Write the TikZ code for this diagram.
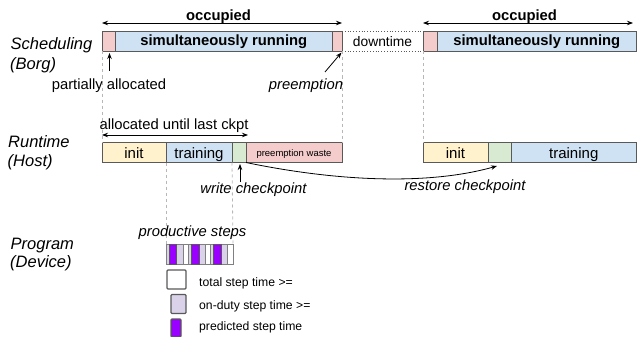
\documentclass[tikz,border=0pt]{standalone}
\usepackage{fontspec}
\setmainfont{Liberation Sans}
\usetikzlibrary{arrows.meta}
\definecolor{cpink}{HTML}{F4CCCC}
\definecolor{cblue}{HTML}{CFE2F3}
\definecolor{cyellow}{HTML}{FFF2CC}
\definecolor{cgreen}{HTML}{D9EAD3}
\definecolor{cpurple}{HTML}{9900FF}
\definecolor{clav}{HTML}{D9D2E9}
\definecolor{cedge}{HTML}{595959}
\definecolor{cdash}{HTML}{B7B7B7}
\begin{document}
\begin{tikzpicture}[x=1pt,y=-1pt,
 seg/.style={draw=cedge,line width=0.8pt,inner sep=0pt,outer sep=0pt,minimum height=20pt,anchor=west},
 topseg/.style={seg,text height=9pt,text depth=0pt,font=\bfseries\fontsize{14.8}{17}\selectfont},
 runseg/.style={seg,text height=12pt,text depth=0pt,font=\fontsize{15}{17}\selectfont},
 btxt/.style={font=\bfseries\fontsize{14.8}{17}\selectfont,inner sep=0pt,anchor=base},
 txt/.style={font=\fontsize{14.8}{17}\selectfont,inner sep=0pt,anchor=base},
 itxt/.style={font=\itshape\fontsize{14.8}{17}\selectfont,inner sep=0pt,anchor=base},
 side/.style={font=\itshape\fontsize{16.5}{19}\selectfont,inner sep=0pt,anchor=base west},
 legtxt/.style={font=\fontsize{12.2}{14}\selectfont,inner sep=0pt,anchor=base west},
 guide/.style={draw=cdash,dash pattern=on 3pt off 3pt,line width=0.8pt},
 arr/.style={-{Stealth[length=6pt,width=4.5pt]},line width=0.8pt},
 darr/.style={{Stealth[length=6pt,width=4.5pt]}-{Stealth[length=6pt,width=4.5pt]},line width=0.8pt},
 stepbox/.style={draw=gray,line width=0.6pt,inner sep=0pt,outer sep=0pt,anchor=north west,minimum height=20pt},
 legbox/.style={draw=cedge,line width=1.1pt,inner sep=0pt,outer sep=0pt,anchor=north west,rounded corners=1pt},
]
\useasboundingbox (0,0) rectangle (637,337);

% top bar
\node[topseg,fill=cpink,minimum width=13.5pt] (s1p) at (102,41.5) {};
\node[topseg,fill=cblue,minimum width=216.5pt] (s1b) at (115.5,41.5) {simultaneously running};
\node[topseg,fill=cpink,minimum width=10pt] (s1q) at (332,41.5) {};
\node[inner sep=0pt,outer sep=0pt,minimum height=20pt,minimum width=81pt,anchor=west,
      text height=10pt,text depth=0pt,font=\fontsize{13.8}{16}\selectfont] (down) at (342,41.5) {downtime};
\node[topseg,fill=cpink,minimum width=14pt] (s2p) at (423,41.5) {};
\node[topseg,fill=cblue,minimum width=199.5pt] (s2b) at (437,41.5) {simultaneously running};
\draw[cedge,dotted,line width=0.8pt] (down.north west) -- (down.north east)
  (down.south west) -- (down.south east);

% runtime bar
\node[runseg,fill=cyellow,minimum width=64pt] (r1i) at (102,152.5) {init};
\node[runseg,fill=cblue,minimum width=66pt] (r1t) at (166,152.5) {training};
\node[runseg,fill=cgreen,minimum width=14pt] (r1g) at (232,152.5) {};
\node[seg,fill=cpink,minimum width=96pt,text height=7pt,text depth=0pt,font=\fontsize{9.5}{11}\selectfont] (r1w) at (246,152.5) {preemption waste};
\node[runseg,fill=cyellow,minimum width=65pt] (r2i) at (423,152.5) {init};
\node[runseg,fill=cgreen,minimum width=23pt] (r2g) at (488,152.5) {};
\node[runseg,fill=cblue,minimum width=125.5pt] (r2t) at (511,152.5) {training};

% steps strip
\node[stepbox,fill=white,minimum width=67pt] (strip) at (166,244) {};
\node[stepbox,fill=white,minimum width=22.33pt] (w1) at (166,244) {};
\node[stepbox,fill=white,minimum width=22.33pt] (w2) at (188.33,244) {};
\node[stepbox,fill=white,minimum width=22.33pt] (w3) at (210.67,244) {};
\node[stepbox,fill=clav,minimum width=17pt] (l1) at (166,244) {};
\node[stepbox,fill=clav,minimum width=17pt] (l2) at (188.33,244) {};
\node[stepbox,fill=clav,minimum width=17pt] (l3) at (210.67,244) {};
\node[stepbox,draw=cedge,fill=cpurple,minimum width=7.5pt] (p1) at (169,244) {};
\node[stepbox,draw=cedge,fill=cpurple,minimum width=7.5pt] (p2) at (191.33,244) {};
\node[stepbox,draw=cedge,fill=cpurple,minimum width=7.5pt] (p3) at (213.67,244) {};

% guides
\draw[guide] (s1p.south west) -- (r1i.north west);
\draw[guide] (s1q.south east) -- (r1w.north east);
\draw[guide] (s2p.south west) -- (r2i.north west);
\draw[guide] (r1t.south west) -- (strip.north west);
\draw[guide] (r1g.south west) -- (strip.north east);

% legend
\node[legbox,fill=white,minimum width=19pt,minimum height=19pt] (lw) at (167,270) {};
\node[legbox,fill=clav,minimum width=15pt,minimum height=19pt] (ll) at (171,294.5) {};
\node[legbox,fill=cpurple,minimum width=10pt,minimum height=18pt] (lp) at (171,319) {};
\node[legtxt] (tw) at (199,286.5) {total step time >=};
\node[legtxt] (tl) at (199,309) {on-duty step time >=};
\node[legtxt] (tp) at (199,330) {predicted step time};

% side labels
\node[side] (sched) at (10.5,50) {Scheduling};
\node[side] (borg) at (10,70) {(Borg)};
\node[side] (rt) at (8,147) {Runtime};
\node[side] (host) at (7.5,166) {(Host)};
\node[side] (prog) at (10.5,249) {Program};
\node[side] (dev) at (10,267) {(Device)};

% texts
\node[btxt] (occ1) at (218.5,20.5) {occupied};
\node[btxt] (occ2) at (524.5,20.5) {occupied};
\node[txt] (pa) at (109,89) {partially allocated};
\node[itxt] (pre) at (306,89) {preemption};
\node[txt] (alc) at (174,129) {allocated until last ckpt};
\node[itxt] (wc) at (253.5,193) {write checkpoint};
\node[itxt] (rc) at (465,190) {restore checkpoint};
\node[itxt] (ps) at (192.5,236) {productive steps};

% arrows
\coordinate (o1a) at (102,23);
\coordinate (o1b) at (342,23);
\coordinate (o2a) at (423,23);
\coordinate (o2b) at (633,23);
\draw[darr] (o1a) -- (o1b);
\draw[darr] (o2a) -- (o2b);
\coordinate (paT) at (109.5,71);
\coordinate (paH) at (109.5,53);
\draw[arr] (paT) -- (paH);
\coordinate (preT) at (325,72);
\coordinate (preH) at (341.5,52.5);
\draw[arr] (preT) -- (preH);
\coordinate (alA) at (102,135);
\coordinate (alB) at (248,135);
\draw[darr] (alA) -- (alB);
\coordinate (wcT) at (240,182);
\coordinate (wcH) at (240,164);
\draw[arr] (wcT) -- (wcH);
\coordinate (rcH) at (497,166);
\draw[arr] (r1w.south west) .. controls (340,182) and (430,185) .. (rcH);
\end{tikzpicture}
\end{document}
